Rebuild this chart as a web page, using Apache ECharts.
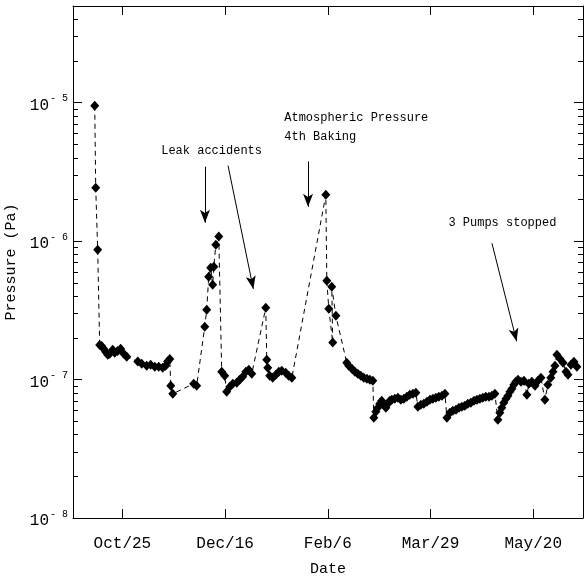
<!DOCTYPE html>
<html><head><meta charset="utf-8">
<script src="https://cdn.jsdelivr.net/npm/echarts@6/dist/echarts.min.js"></script>
<style>html,body{margin:0;padding:0;background:#fff}#c{width:584px;height:582px}</style>
</head><body><div id="c"></div>
<script>
// Days counted from Oct/25
const days = [
 -14.0,-13.5,-12.5,-11.5,-10.5,-9.5,-8.5,-7.4,-6.4,-4.9,-3.9,-2.4,-0.9,0.7,2.2,
 7.8,9.8,12.3,14.3,16.4,18.4,20.4,21.9,22.9,24.0,24.5,25.5,
 36.1,37.6,41.7,42.7,43.7,44.7,45.7,46.3,47.3,48.8,50.3,51.8,
 52.8,54.4,55.9,57.9,59.4,60.9,62.5,64.0,65.5,
 72.6,73.1,73.6,74.6,76.1,77.7,79.2,80.7,82.7,84.2,85.8,
 103.0,103.5,104.5,106.5,106.0,108.1,
 113.6,114.6,116.2,117.7,119.2,120.7,122.2,123.8,125.3,126.8,
 127.3,128.3,129.3,130.3,131.3,132.4,133.4,134.4,135.4,136.4,137.9,139.5,141.0,142.5,144.0,145.5,147.1,148.6,
 149.6,151.1,152.6,154.2,155.7,157.2,158.7,160.2,161.8,163.3,
 164.3,165.8,167.3,168.9,170.4,171.9,173.4,174.9,176.4,178.0,179.5,181.0,182.5,184.0,185.6,187.1,188.6,
 190.1,191.1,192.1,193.1,194.2,195.2,196.2,197.2,198.2,199.2,200.3,201.8,203.3,204.8,205.8,207.3,208.9,210.4,211.9,
 213.9,215.4,216.9,218.0,219.0,220.0,221.5,223.1,224.6,225.6,227.1,228.6,230.1
];
// Pressure (Pa)
const pressure = [
 9.51e-6,2.43e-6,8.67e-7,1.78e-7,1.75e-7,1.67e-7,1.59e-7,1.51e-7,1.54e-7,1.64e-7,1.56e-7,1.61e-7,1.67e-7,1.54e-7,1.46e-7,
 1.35e-7,1.30e-7,1.26e-7,1.28e-7,1.24e-7,1.24e-7,1.22e-7,1.26e-7,1.35e-7,1.41e-7,9.02e-8,7.90e-8,
 9.33e-8,9.02e-8,2.41e-7,3.19e-7,5.53e-7,6.42e-7,4.84e-7,6.53e-7,9.42e-7,1.08e-6,1.14e-7,1.065e-7,
 8.16e-8,8.87e-8,9.33e-8,9.48e-8,9.97e-8,1.048e-7,1.139e-7,1.177e-7,1.101e-7,
 3.30e-7,1.39e-7,1.217e-7,1.065e-7,1.03e-7,1.083e-7,1.139e-7,1.158e-7,1.12e-7,1.065e-7,1.03e-7,
 2.16e-6,5.18e-7,3.25e-7,1.85e-7,4.69e-7,2.89e-7,
 1.322e-7,1.258e-7,1.197e-7,1.139e-7,1.101e-7,1.065e-7,1.03e-7,1.013e-7,9.97e-8,9.80e-8,
 5.30e-8,5.85e-8,6.25e-8,6.68e-8,7.03e-8,6.57e-8,6.25e-8,6.68e-8,7.03e-8,7.14e-8,7.27e-8,7.39e-8,7.14e-8,7.27e-8,7.51e-8,7.77e-8,7.90e-8,8.03e-8,
 6.36e-8,6.57e-8,6.68e-8,6.91e-8,7.14e-8,7.27e-8,7.39e-8,7.51e-8,7.64e-8,7.90e-8,
 5.30e-8,5.75e-8,5.95e-8,6.05e-8,6.25e-8,6.36e-8,6.47e-8,6.68e-8,6.80e-8,7.03e-8,7.14e-8,7.27e-8,7.39e-8,7.51e-8,7.51e-8,7.64e-8,7.90e-8,
 5.12e-8,5.75e-8,6.25e-8,6.80e-8,7.27e-8,7.64e-8,8.16e-8,8.58e-8,9.17e-8,9.64e-8,9.97e-8,9.64e-8,9.80e-8,7.77e-8,9.33e-8,9.64e-8,9.02e-8,9.80e-8,1.03e-7,
 7.14e-8,9.17e-8,1.03e-7,1.139e-7,1.258e-7,1.511e-7,1.413e-7,1.322e-7,1.139e-7,1.083e-7,1.279e-7,1.345e-7,1.237e-7
];
const xTickDays = [0, 52, 104, 156, 208];
const xTickLabels = ['Oct/25', 'Dec/16', 'Feb/6', 'Mar/29', 'May/20'];
const yMajor = [1e-8, 1e-7, 1e-6, 1e-5];
const yMinorFactors = [2, 3, 4, 5, 6, 7, 8, 9];
const annotationTexts = ['Leak accidents', 'Atmospheric Pressure', '4th Baking', '3 Pumps stopped'];
const annotationDays = [19.4, 81.7, 81.7, 164.8];
const annotationPressure = [4.5e-6, 7.79e-6, 5.67e-6, 1.36e-6];
const arrowFrom = [[41.8, 3.45e-6], [53.5, 3.51e-6], [94.0, 3.77e-6], [187.1, 9.66e-7]];
const arrowTo = [[41.8, 1.36e-6], [66.3, 4.52e-7], [94.0, 1.77e-6], [199.6, 1.89e-7]];

const X_MIN = -25, X_MAX = 233.2;
const Y_MIN = 1e-8, Y_MAX = 5e-5;
const FONT = 'Liberation Mono';

const minorLog = [];
for (let e = -8; e <= -5; e++) {
  yMinorFactors.forEach(f => { const v = f * Math.pow(10, e); if (v < Y_MAX * 1.0001) minorLog.push(Math.log10(v)); });
}

const chart = echarts.init(document.getElementById('c'), null, {renderer: 'canvas'});
const blackLine = {show: true, onZero: false, lineStyle: {color: '#000', width: 1}};

const logAxis = (pos, labels) => ({
  type: 'log', logBase: 10, min: Y_MIN, max: Y_MAX, position: pos,
  axisLine: blackLine,
  axisTick: {show: true, inside: true, length: 9, lineStyle: {color: '#000', width: 1}},
  minorTick: {show: false},
  splitLine: {show: false},
  axisLabel: labels ? {
    show: true, margin: 5, showMaxLabel: false, color: '#000',
    formatter: v => '{b|10}{s|- ' + Math.abs(Math.round(Math.log10(v))) + '}',
    rich: {
      b: {fontFamily: FONT, fontSize: 16, color: '#000', padding: [6, 0, 0, 0]},
      s: {fontFamily: FONT, fontSize: 10, color: '#000', padding: [0, 0, 8, 1]}
    }
  } : {show: false},
  name: labels ? 'Pressure (Pa)' : '', nameLocation: 'middle', nameGap: 42, nameRotate: 90,
  nameTextStyle: {fontFamily: FONT, fontSize: 15, color: '#000'}
});
const helperAxis = (pos) => ({
  type: 'value', min: -8, max: Math.log10(Y_MAX), position: pos,
  axisLine: {show: false, onZero: false},
  axisTick: {show: true, inside: true, length: 5, customValues: minorLog, lineStyle: {color: '#000', width: 1}},
  axisLabel: {show: false}, splitLine: {show: false}
});

chart.setOption({
  animation: false,
  backgroundColor: '#fff',
  grid: {left: 73, right: 1, top: 6, bottom: 64, containLabel: false, outerBoundsMode: 'none'},
  xAxis: [
    {
      type: 'value', min: X_MIN, max: X_MAX, position: 'bottom',
      axisLine: blackLine,
      axisTick: {show: true, inside: true, length: 9, customValues: xTickDays, lineStyle: {color: '#000'}},
      axisLabel: {show: true, customValues: xTickDays, margin: 18, color: '#000', fontFamily: FONT, fontSize: 16,
        formatter: v => xTickLabels[xTickDays.indexOf(Math.round(v))] || ''},
      splitLine: {show: false},
      name: 'Date', nameLocation: 'middle', nameGap: 44,
      nameTextStyle: {fontFamily: FONT, fontSize: 15, color: '#000'}
    },
    {
      type: 'value', min: X_MIN, max: X_MAX, position: 'top',
      axisLine: blackLine,
      axisTick: {show: true, inside: true, length: 9, customValues: xTickDays, lineStyle: {color: '#000'}},
      axisLabel: {show: false}, splitLine: {show: false}
    }
  ],
  yAxis: [logAxis('left', true), helperAxis('left'), logAxis('right', false), helperAxis('right')],
  series: [{
    type: 'line', xAxisIndex: 0, yAxisIndex: 0, silent: true,
    data: days.map((d, i) => [d, pressure[i]]),
    symbol: 'diamond', symbolSize: [9, 10],
    itemStyle: {color: '#000'},
    lineStyle: {color: '#000', width: 1, type: [5, 4]},
    emphasis: {disabled: true},
    markLine: {
      silent: true, animation: false,
      symbol: ['none', 'arrow'],
      lineStyle: {color: '#000', width: 1, type: 'solid'},
      label: {show: false},
      emphasis: {disabled: true},
      data: arrowFrom.map((f, i) => [
        {coord: f, symbol: 'none'},
        {coord: arrowTo[i], symbol: 'arrow', symbolSize: [7.5, 13]}
      ])
    },
    markPoint: {
      silent: true, animation: false,
      symbol: 'circle', symbolSize: 1,
      itemStyle: {color: 'rgba(0,0,0,0)'},
      label: {show: true, position: 'right', distance: 0, formatter: '{b}', color: '#000', fontFamily: FONT, fontSize: 12},
      data: annotationTexts.map((t, i) => ({name: t, coord: [annotationDays[i], annotationPressure[i]]}))
    }
  }]
});
</script></body></html>
